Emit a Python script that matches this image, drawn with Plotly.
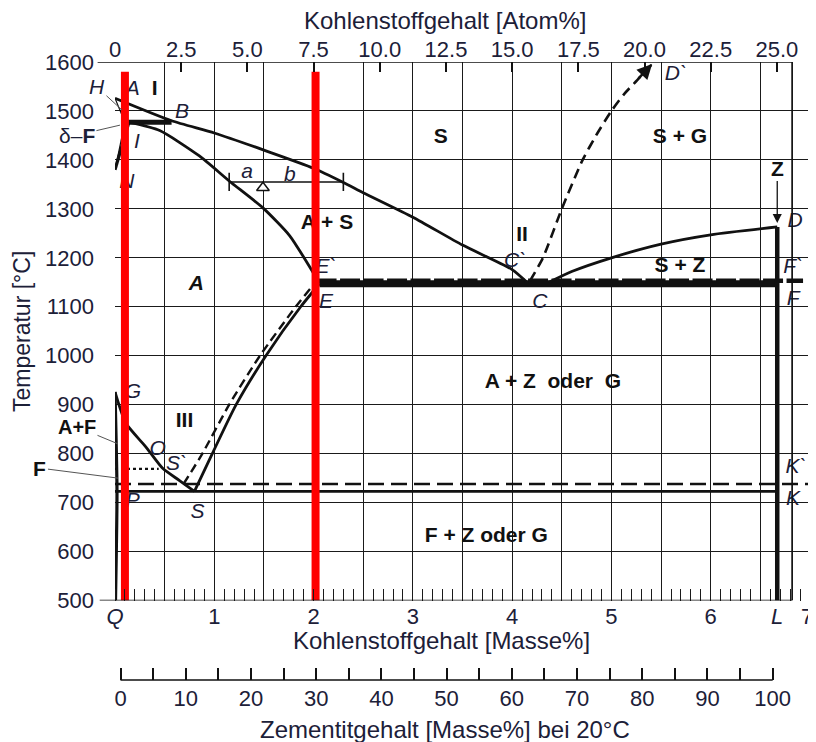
import plotly.graph_objects as go

# ---------------- data (mass% C , temperature degC) ----------------
liq_x = [0.0, 0.57, 1.0, 1.5, 2.0, 2.3, 2.5, 3.0, 3.5, 4.0, 4.15]
liq_T = [1526, 1480, 1455, 1420, 1383, 1354, 1333, 1283, 1226, 1176, 1150]

sol_x = [0.14, 0.45, 0.85, 1.15, 1.49, 1.76, 1.98, 2.06]
sol_T = [1477, 1460, 1408, 1357, 1302, 1245, 1175, 1147]

se_x = [0.8, 0.98, 1.22, 1.52, 1.87, 2.06]
se_T = [723, 800, 900, 1000, 1100, 1147]
sed_x = [0.69, 0.88, 1.15, 1.46, 1.82, 2.03]
sed_T = [738, 800, 900, 1000, 1100, 1153]

gs_x = [0.0, 0.11, 0.31, 0.48, 0.65, 0.8]
gs_T = [926, 862, 814, 770, 745, 723]

gpq_x = [0.0, 0.02, 0.005]
gpq_T = [926, 723, 500]

mo_x = [0.0, 0.44]
mo_T = [769, 769]

psk_x = [0.0, 6.67]
psk_T = [723, 723]
psk2_x = [0.0, 7.0]
psk2_T = [738, 738]

ecf_x = [2.06, 6.67]
ecf_T = [1147, 1147]
ecf2_x = [2.03, 6.93]
ecf2_T = [1153, 1153]

cd_x = [4.37, 4.6, 5.0, 5.5, 6.0, 6.67]
cd_T = [1150, 1172, 1200, 1228, 1247, 1263]

cd2_x = [4.18, 4.31, 4.5, 4.71, 4.86, 5.0, 5.13, 5.26, 5.41]
cd2_T = [1153, 1200, 1300, 1400, 1455, 1500, 1535, 1563, 1596]

l_x = [6.67, 6.67]
l_T = [1263, 500]

hb_x = [0.1, 0.57]
hb_T = [1477, 1477]
ah_x = [0.0, 0.1]
ah_T = [1526, 1477]
hn_x = [0.1, 0.0]
hn_T = [1477, 1380]
in_x = [0.14, 0.0]
in_T = [1477, 1380]

tie_x = [1.15, 2.3]
tie_T = [1355, 1355]
tri_x = [1.49]
tri_T = [1343]

red1_x = [0.1, 0.1]
red2_x = [2.02, 2.02]
red_T = [500, 1580]

pt_labels = ["A", "B", "I", "N", "E`", "E", "C`", "C", "D", "F`", "F", "D`",
             "G", "O", "S`", "P", "S", "K`", "K", "a", "b"]
pt_x = [0.18, 0.675, 0.22, 0.12, 2.125, 2.125, 4.03, 4.28, 6.85, 6.83, 6.83, 5.65,
        0.18, 0.43, 0.62, 0.18, 0.83, 6.86, 6.83, 1.33, 1.76]
pt_T = [1543, 1496, 1435, 1353, 1179, 1109, 1192, 1109, 1273, 1179, 1114, 1574,
        924, 807, 777, 701, 679, 771, 705, 1373, 1367]

reg_labels = ["I", "S", "S + G", "A + S", "II", "S + Z", "<i>A</i>",
              "A + Z\u00a0\u00a0oder\u00a0\u00a0G", "III", "F + Z oder G"]
reg_x = [0.40, 3.28, 5.69, 2.135, 4.10, 5.69, 0.82, 4.41, 0.70, 3.74]
reg_T = [1543, 1445, 1445, 1269, 1245, 1181, 1145, 944, 865, 630]

mass_ticks = [0, 1, 2, 3, 4, 5, 6, 6.67]
mass_text = ["<i>Q</i>", "1", "2", "3", "4", "5", "6", "<i>L</i>"]
mass_last_text = "7"       # drawn as a note at the very page edge
atom_ticks = [0, 2.5, 5.0, 7.5, 10.0, 12.5, 15.0, 17.5, 20.0, 22.5, 25.0]
atom_text = ["0", "2.5", "5.0", "7.5", "10.0", "12.5", "15.0", "17.5", "20.0", "22.5", "25.0"]
cem_ticks = list(range(0, 101, 5))
cem_text = [str(v) if v % 10 == 0 else "" for v in cem_ticks]
temp_ticks = list(range(500, 1601, 100))

# ---------------- styling ----------------
FONT = "Liberation Sans, Arial, sans-serif"
TXT = "#1c2038"
BLK = "#111111"
GRID = "#1a1a1a"
LW = 2.8

fig = go.Figure()


def line(x, y, width=LW, dash="solid", color=BLK):
    fig.add_trace(go.Scatter(x=x, y=y, mode="lines", hoverinfo="skip",
                             line=dict(color=color, width=width, dash=dash, shape="spline",
                                       smoothing=0.6)))


line(liq_x, liq_T)
line(sol_x, sol_T)
line(se_x, se_T)
line(sed_x, sed_T, 2.4, "9px,5px")
line(gs_x, gs_T)
line(gpq_x, gpq_T, 3.2)
line(mo_x, mo_T, 2.2, "dot")
line(psk_x, psk_T, 2.6)
line(psk2_x, psk2_T, 2.6, "16px,7px")
line(ecf_x, ecf_T, 7)
line(ecf2_x, ecf2_T, 4.5, "20px,3.5px")
line(cd_x, cd_T)
line(cd2_x, cd2_T, 2.6, "10px,6px")
line(l_x, l_T, 4.5)
line(hb_x, hb_T, 5)
line(ah_x, ah_T, 1.2)
line(hn_x, hn_T, 1.2)
line(in_x, in_T, 3.2)

# tie line a-b with end bars and triangle
fig.add_trace(go.Scatter(x=tie_x, y=tie_T, mode="lines+markers", hoverinfo="skip",
                         line=dict(color=BLK, width=1.6),
                         marker=dict(symbol="line-ns", size=13, color=BLK,
                                     line=dict(color=BLK, width=1.6))))
fig.add_trace(go.Scatter(x=tri_x, y=tri_T, mode="markers", hoverinfo="skip",
                         marker=dict(symbol="triangle-up", size=11, color="white",
                                     line=dict(color=BLK, width=1.5))))

# point labels (italic)
fig.add_trace(go.Scatter(x=pt_x, y=pt_T, mode="text", hoverinfo="skip",
                         text=["<i>%s</i>" % t for t in pt_labels], cliponaxis=False,
                         textfont=dict(family=FONT, size=21, color=TXT)))
# region labels (bold)
fig.add_trace(go.Scatter(x=reg_x, y=reg_T, mode="text", hoverinfo="skip",
                         text=["<b>%s</b>" % t for t in reg_labels], cliponaxis=False,
                         textfont=dict(family=FONT, size=21, color=BLK)))

# red marker lines on top
fig.add_trace(go.Scatter(x=red1_x, y=red_T, mode="lines", hoverinfo="skip",
                         line=dict(color="#ff0000", width=8)))
fig.add_trace(go.Scatter(x=red2_x, y=red_T, mode="lines", hoverinfo="skip",
                         line=dict(color="#ff0000", width=8)))

# dummy traces to make the extra axes live
for ax in ["x2", "x3", "x4"]:
    fig.add_trace(go.Scatter(x=[None], y=[None], xaxis=ax, yaxis="y",
                             mode="markers", hoverinfo="skip", showlegend=False))

# page has an 8px body margin, so the figure is placed 8px in from the corner
PB = 692.0  # paper bottom (screen px)
PT = 62.0
PH = PB - PT
ydom0 = (PB - 600.5) / PH
cem_pos = (PB - 680.0) / PH

tickfont = dict(family=FONT, size=22, color=TXT)

fig.update_layout(
    width=808, height=734,
    margin=dict(l=107, r=6, t=54, b=50, pad=0, autoexpand=False),
    plot_bgcolor="white", paper_bgcolor="white",
    showlegend=False,
    xaxis=dict(range=[0, 7], domain=[0, 1], tickmode="array", automargin=False,
               tickvals=[i * 0.5 for i in range(14)], showticklabels=False,
               ticks="", showgrid=True, gridcolor=GRID, gridwidth=1.4,
               zeroline=False, showline=False,
               minor=dict(tickmode="linear", tick0=0, dtick=0.1, ticks="inside",
                          ticklen=12, tickwidth=1.4, tickcolor=GRID, showgrid=False)),
    xaxis4=dict(range=[0, 7], overlaying="x", anchor="y", side="bottom", automargin=False,
                tickmode="array", tickvals=mass_ticks, ticktext=mass_text,
                ticks="", showgrid=False, zeroline=False, showline=False,
                tickfont=tickfont, ticklabelstandoff=0),
    xaxis2=dict(range=[0, 26.25], overlaying="x", anchor="y", side="top", automargin=False,
                tickmode="array", tickvals=atom_ticks, ticktext=atom_text,
                ticks="inside", ticklen=10, tickwidth=1.5, tickcolor=BLK,
                showgrid=False, zeroline=False, showline=False,
                tickfont=tickfont, ticklabelstandoff=0),
    xaxis3=dict(range=[-0.843, 105.72], overlaying="x", anchor="free", automargin=False,
                position=cem_pos, side="bottom",
                tickmode="array", tickvals=cem_ticks, ticktext=cem_text,
                ticks="inside", ticklen=12, tickwidth=1.5, tickcolor=BLK,
                showgrid=False, zeroline=False, showline=False,
                tickfont=tickfont, ticklabelstandoff=3),
    yaxis=dict(range=[500, 1600], domain=[ydom0, 1], tickmode="array", automargin=False,
               tickvals=temp_ticks, ticks="", showgrid=True, gridcolor=GRID,
               gridwidth=1.4, zeroline=False, showline=False,
               tickfont=tickfont, ticklabelstandoff=20),
)

# frame pieces
fig.add_shape(type="line", xref="paper", yref="y", x0=-0.025, x1=6.82 / 7,
              y0=1600, y1=1600, line=dict(color=BLK, width=1.7))
fig.add_shape(type="line", xref="paper", yref="y", x0=-0.022, x1=6.82 / 7,
              y0=500, y1=500, line=dict(color=BLK, width=1.7))
fig.add_shape(type="line", xref="x", yref="y", x0=6.82, x1=6.82,
              y0=500, y1=1600, line=dict(color=BLK, width=1.7))
fig.add_shape(type="line", xref="x3", yref="paper", x0=0, x1=100,
              y0=cem_pos, y1=cem_pos, line=dict(color=BLK, width=1.7))

ann = []
cm = dict(xanchor="center", yanchor="middle", showarrow=False)
# axis titles
ann.append(dict(text="Kohlenstoffgehalt [Atom%]", xref="paper", yref="paper",
                x=(445 - 115) / 695, y=(PB - 20) / PH,
                font=dict(family=FONT, size=24, color=TXT), **cm))
ann.append(dict(text="Kohlenstoffgehalt [Masse%]", xref="paper", yref="paper",
                x=(441 - 115) / 695, y=(PB - 640) / PH,
                font=dict(family=FONT, size=24, color=TXT), **cm))
ann.append(dict(text="Zementitgehalt [Masse%] bei 20°C", xref="paper", yref="paper",
                x=(445 - 115) / 695, y=(PB - 729) / PH,
                font=dict(family=FONT, size=24, color=TXT), **cm))
ann.append(dict(text="Temperatur [°C]", xref="paper", yref="paper",
                x=(22 - 115) / 695, y=(PB - 331) / PH, textangle=-90,
                font=dict(family=FONT, size=23, color=TXT), **cm))
# last mass% tick label "7" at the page edge
ann.append(dict(text=mass_last_text, xref="paper", yref="paper",
                x=(807 - 115) / 695, y=(PB - 616) / PH,
                font=dict(family=FONT, size=22, color=TXT), **cm))

# labels with leader lines
lead = dict(showarrow=True, arrowhead=0, arrowwidth=1, arrowcolor="#555555",
            standoff=0, startstandoff=0)
ann.append(dict(text="<i>H</i>", x=0.07, y=1502, ax=-25, ay=-23,
                font=dict(family=FONT, size=21, color=TXT), **lead))
ann.append(dict(text="δ–<b>F</b>", x=0.05, y=1471, ax=-43, ay=10,
                font=dict(family=FONT, size=21, color=TXT), **lead))
ann.append(dict(text="<b>A+F</b>", x=0.03, y=820, ax=-41, ay=-17,
                font=dict(family=FONT, size=20, color=BLK), **lead))
ann.append(dict(text="<b>F</b>", x=0.03, y=750, ax=-78, ay=-10,
                font=dict(family=FONT, size=21, color=BLK), **lead))
ann.append(dict(text="<i>M</i>", x=-0.131, y=783, xanchor="center", yanchor="middle",
                showarrow=False, font=dict(family=FONT, size=21, color=TXT)))
ann.append(dict(text="<i>P`</i>", x=-0.151, y=734, xanchor="center", yanchor="middle",
                showarrow=False, font=dict(family=FONT, size=21, color=TXT)))
# Z arrow to D
ann.append(dict(text="<b>Z</b>", x=6.67, y=1271, ax=0, ay=-55, showarrow=True,
                arrowhead=2, arrowsize=1.4, arrowwidth=1.3, arrowcolor=BLK, standoff=0,
                font=dict(family=FONT, size=21, color=BLK)))
# arrow head at D'
ann.append(dict(text="", x=cd2_x[-1], y=cd2_T[-1], ax=-15, ay=16, showarrow=True,
                arrowhead=2, arrowsize=1.2, arrowwidth=2.5, arrowcolor=BLK, standoff=0))

fig.update_layout(annotations=ann)

fig.write_html("out.html")
